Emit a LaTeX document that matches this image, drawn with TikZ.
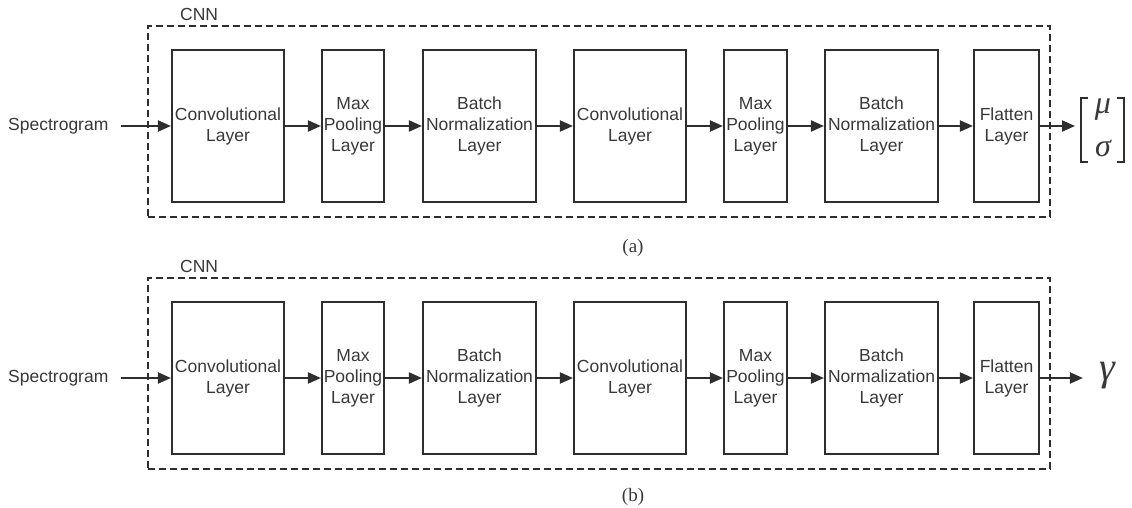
\documentclass[tikz,border=0pt]{standalone}
\usepackage{fontspec}
\setmainfont{Liberation Serif}
\setsansfont{Liberation Sans}
\usetikzlibrary{arrows.meta}
\definecolor{ink}{HTML}{2E2E2E}
\definecolor{txt}{HTML}{383838}
\begin{document}
\begin{tikzpicture}[x=1pt,y=-1pt,
  layer/.style={draw=ink, line width=2.1pt, minimum height=152pt, inner sep=0pt,
    align=center, font=\sffamily\fontsize{17.5}{21}\selectfont, text=txt},
  lbl/.style={font=\sffamily\fontsize{17.5}{21}\selectfont, text=txt, inner sep=0pt},
  arr/.style={draw=ink, line width=2pt, -{Triangle[length=13pt,width=11pt]}},
  cnnbox/.style={draw=ink, line width=2pt, dash pattern=on 7pt off 4pt,
    minimum width=902pt, minimum height=191pt, inner sep=0pt},
  greek/.style={inner sep=0pt, text=txt, font=\itshape\fontsize{32}{34}\selectfont},
  brk/.style={draw=ink, line width=2pt},
  captext/.style={font=\fontsize{19}{21}\selectfont, text=txt, inner sep=0pt}]
\useasboundingbox (0,0) rectangle (1132,508);
\foreach \p/\oy in {a/0,b/252}{
  \begin{scope}[yshift=-\oy pt]
    \node[cnnbox] (\p-cnn) at (599,121.5) {};
    \node[lbl, anchor=west] (\p-cnnlab) at (180,14) {CNN};
    \node[lbl, anchor=west] (\p-in) at (8,126) {Spectrogram};
    \node[layer, minimum width=112pt] (\p1) at (228,126) {Convolutional\\Layer};
    \node[layer, minimum width=62pt] (\p2) at (353,126) {Max\\Pooling\\Layer};
    \node[layer, minimum width=113pt] (\p3) at (479.5,126) {Batch\\Normalization\\Layer};
    \node[layer, minimum width=112pt] (\p4) at (630,126) {Convolutional\\Layer};
    \node[layer, minimum width=63pt] (\p5) at (755.5,126) {Max\\Pooling\\Layer};
    \node[layer, minimum width=113pt] (\p6) at (881.5,126) {Batch\\Normalization\\Layer};
    \node[layer, minimum width=65pt] (\p7) at (1006.5,126) {Flatten\\Layer};
    \draw[arr, shorten <=12pt] (\p-in.east) -- (\p1.west);
    \draw[arr] (\p1.east) -- (\p2.west);
    \draw[arr] (\p2.east) -- (\p3.west);
    \draw[arr] (\p3.east) -- (\p4.west);
    \draw[arr] (\p4.east) -- (\p5.west);
    \draw[arr] (\p5.east) -- (\p6.west);
    \draw[arr] (\p6.east) -- (\p7.west);
  \end{scope}
}
% output of (a): vector [mu; sigma]
\node[greek] (a-mu) at (1103,110) {μ};
\node[greek] (a-sigma) at (1103,148) {σ};
\coordinate (a-out) at (1080,126);
\draw[brk] (1088,98) -- (1081,98) -- (1081,162) -- (1088,162);
\draw[brk] (1117,98) -- (1124,98) -- (1124,162) -- (1117,162);
\draw[arr, shorten >=5pt] (a7.east) -- (a-out);
% output of (b): gamma
\node[greek, font=\itshape\fontsize{40}{42}\selectfont] (b-out) at (1107,376) {γ};
\draw[arr, shorten >=16pt] (b7.east) -- (b7.east -| b-out.west);
\node[captext] (capa) at (633,248) {(a)};
\node[captext] (capb) at (633,497) {(b)};
\end{tikzpicture}
\end{document}
